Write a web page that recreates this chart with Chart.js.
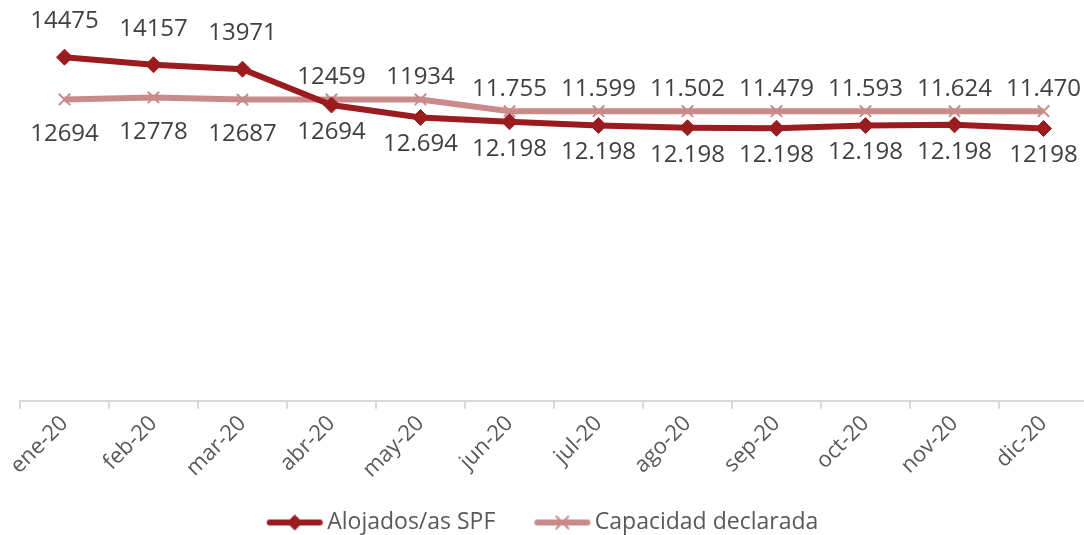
<!DOCTYPE html>
<html>
<head>
<meta charset="utf-8">
<script src="https://cdn.jsdelivr.net/npm/chart.js@4.4.1/dist/chart.umd.min.js"></script>
<style>
  html, body { margin: 0; padding: 0; background: #fff; overflow: hidden; }
  /* slightly wider than the window: the plot runs up to the right edge in the original */
  #wrap { width: 1088px; height: 535px; position: relative; }
</style>
</head>
<body>
<div id="wrap"><canvas id="myChart"></canvas></div>
<script>
	// data
	const months = ['ene-20', 'feb-20', 'mar-20', 'abr-20', 'may-20', 'jun-20', 'jul-20', 'ago-20', 'sep-20', 'oct-20', 'nov-20', 'dic-20'];
	const alojados = [14475, 14157, 13971, 12459, 11934, 11755, 11599, 11502, 11479, 11593, 11624, 11470];
	const capacidad = [12694, 12778, 12687, 12694, 12694, 12198, 12198, 12198, 12198, 12198, 12198, 12198];
	// labels as printed in the original (formatting is mixed there)
	const alojadosLabels = ['14475', '14157', '13971', '12459', '11934', '11.755', '11.599', '11.502', '11.479', '11.593', '11.624', '11.470'];
	const capacidadLabels = ['12694', '12778', '12687', '12694', '12.694', '12.198', '12.198', '12.198', '12.198', '12.198', '12.198', '12198'];

	const darkRed = '#9b1c1f';
	const pink = '#c98a8a';

	Chart.defaults.font.family = '"Open Sans", sans-serif';
	Chart.defaults.color = '#595959';

	// line + marker pictures for the legend (left part of the canvas is empty, it makes the gap between items)
	function legendIcon(color, marker)
	{
		var c = document.createElement('canvas');
		c.width = 94;
		c.height = 20;
		var g = c.getContext('2d');
		g.strokeStyle = color;
		g.lineWidth = 6;
		g.lineCap = 'round';
		g.beginPath();
		g.moveTo(40, 10);
		g.lineTo(90, 10);
		g.stroke();
		if (marker === 'diamond')
		{
			g.fillStyle = color;
			g.beginPath();
			g.moveTo(65, 2);
			g.lineTo(73, 10);
			g.lineTo(65, 18);
			g.lineTo(57, 10);
			g.closePath();
			g.fill();
		}
		else
		{
			g.lineWidth = 2;
			g.beginPath();
			g.moveTo(59, 4); g.lineTo(71, 16);
			g.moveTo(71, 4); g.lineTo(59, 16);
			g.stroke();
		}
		return c;
	}
	const icons = [legendIcon(darkRed, 'diamond'), legendIcon(pink, 'cross')];

	const valueLabels = {
		id: 'valueLabels',
		afterLayout(chart)
		{
			// move the legend a bit, like in the original
			chart.legend.left -= 26;
			chart.legend.right -= 26;
			chart.legend.top += 16;
			chart.legend.bottom += 16;
		},
		afterDatasetsDraw(chart)
		{
			var ctx = chart.ctx;
			var mD = chart.getDatasetMeta(0).data;
			var mP = chart.getDatasetMeta(1).data;
			ctx.save();
			ctx.font = '24px "Open Sans", sans-serif';
			ctx.fillStyle = '#404040';
			ctx.textAlign = 'center';
			ctx.textBaseline = 'middle';
			for (var i = 0; i < mD.length; i++)
			{
				var x = mD[i].x, yD = mD[i].y, yP = mP[i].y;
				var topY = yD < yP ? yD - 36 : yP - 22;
				var botY = yP > yD ? yP + 35 : yD + 27;
				ctx.fillText(alojadosLabels[i], x, topY);
				ctx.fillText(capacidadLabels[i], x, botY);
			}
			ctx.restore();
		}
	};

	var ctx = document.getElementById('myChart').getContext('2d');
	var myChart = new Chart(ctx, {
		type: 'line',
		data: {
			labels: months,
			datasets: [{
				label: 'Alojados/as SPF',
				data: alojados,
				borderColor: darkRed,
				backgroundColor: darkRed,
				borderWidth: 6,
				pointStyle: 'rectRot',
				pointRadius: 8,
				pointBorderWidth: 1,
				tension: 0
			}, {
				label: 'Capacidad declarada',
				data: capacidad,
				borderColor: pink,
				backgroundColor: pink,
				borderWidth: 6,
				pointStyle: 'crossRot',
				pointRadius: 8,
				pointBorderWidth: 2,
				tension: 0
			}]
		},
		options: {
			responsive: true,
			maintainAspectRatio: false,
			animation: false,
			layout: {
				autoPadding: false,
				padding: { top: 21, left: 20, right: 0, bottom: 7 }
			},
			scales: {
				x: {
					offset: true,
					afterFit: function (scale) {
						scale.paddingLeft = 0;
						scale.paddingRight = 0;
					},
					grid: {
						offset: true,
						drawOnChartArea: false,
						drawTicks: true,
						tickLength: 8,
						color: '#d9d9d9',
						lineWidth: 2
					},
					border: { color: '#d9d9d9', width: 2 },
					ticks: {
						minRotation: 45,
						maxRotation: 45,
						color: '#595959',
						font: { size: 22 },
						padding: 2
					}
				},
				y: {
					display: false,
					min: 0,
					max: 16000
				}
			},
			plugins: {
				legend: {
					position: 'bottom',
					labels: {
						usePointStyle: true,
						pointStyleWidth: 78,
						padding: 10,
						color: '#595959',
						font: { size: 23 },
						generateLabels: function (chart) {
							var items = Chart.defaults.plugins.legend.labels.generateLabels(chart);
							items.forEach(function (it, i) { it.pointStyle = icons[i]; });
							return items;
						}
					}
				},
				tooltip: { enabled: false }
			}
		},
		plugins: [valueLabels]
	});
</script>
</body>
</html>
